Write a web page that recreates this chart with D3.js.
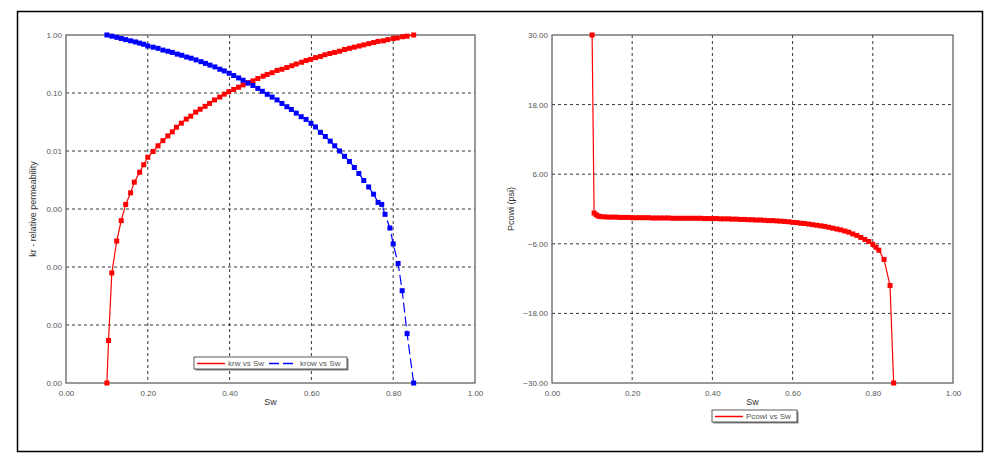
<!DOCTYPE html>
<html><head><meta charset="utf-8">
<script src="https://cdn.jsdelivr.net/npm/d3@7"></script>
<style>body{margin:0;background:#fff;font-family:"Liberation Sans",Arial,sans-serif}</style>
</head><body><svg id="c" width="1000" height="466"></svg>
<script>
// krw vs Sw
var swKrw = [0.100,0.104,0.112,0.124,0.135,0.146,0.158,0.167,0.180,0.190,0.200,0.213,0.225,0.237,0.249,0.260,0.270,0.282,0.294,0.305,0.317,0.328,0.340,0.351,0.363,0.376,0.387,0.398,0.410,0.422,0.433,0.445,0.457,0.469,0.482,0.492,0.504,0.516,0.528,0.540,0.552,0.563,0.576,0.587,0.598,0.610,0.622,0.633,0.645,0.657,0.669,0.681,0.693,0.705,0.717,0.728,0.740,0.752,0.763,0.776,0.787,0.800,0.810,0.823,0.834,0.850];
var krw = [1e-6,5.4e-6,7.9e-5,2.8e-4,6.3e-4,1.2e-3,1.9e-3,2.9e-3,4.3e-3,5.8e-3,7.8e-3,9.8e-3,0.0123,0.0151,0.0182,0.0214,0.0257,0.0302,0.0355,0.0398,0.0468,0.0525,0.0589,0.0661,0.0759,0.0851,0.0955,0.105,0.115,0.126,0.138,0.151,0.162,0.178,0.195,0.209,0.224,0.245,0.257,0.275,0.295,0.316,0.339,0.363,0.380,0.407,0.427,0.457,0.479,0.501,0.525,0.562,0.589,0.617,0.646,0.676,0.708,0.741,0.776,0.794,0.832,0.871,0.891,0.933,0.955,1.0];
// krow vs Sw
var swKrow = [0.100,0.112,0.124,0.135,0.146,0.158,0.170,0.180,0.190,0.200,0.213,0.225,0.237,0.249,0.260,0.272,0.283,0.295,0.306,0.318,0.330,0.341,0.352,0.364,0.376,0.387,0.399,0.410,0.422,0.433,0.445,0.457,0.469,0.480,0.492,0.504,0.516,0.528,0.540,0.551,0.563,0.575,0.587,0.599,0.610,0.622,0.634,0.646,0.657,0.669,0.681,0.693,0.705,0.716,0.728,0.740,0.752,0.763,0.772,0.780,0.792,0.800,0.812,0.822,0.834,0.850];
var krow = [1.0,0.955,0.912,0.871,0.832,0.794,0.759,0.724,0.692,0.646,0.617,0.589,0.550,0.525,0.501,0.468,0.447,0.417,0.398,0.372,0.347,0.324,0.302,0.282,0.257,0.240,0.219,0.200,0.182,0.166,0.148,0.135,0.120,0.107,0.095,0.085,0.076,0.066,0.058,0.052,0.045,0.039,0.035,0.030,0.026,0.021,0.0178,0.0148,0.0123,0.0100,0.0081,0.0066,0.0052,0.0041,0.0031,0.0024,0.0018,0.0013,0.0012,0.00081,0.00047,0.00025,0.000115,0.000039,7.1e-6,1e-6];
// Pcowi vs Sw
var swPc = [0.100,0.105,0.110,0.115,0.120,0.130,0.140,0.150,0.160,0.170,0.180,0.190,0.200,0.210,0.220,0.230,0.240,0.250,0.260,0.270,0.280,0.290,0.300,0.310,0.320,0.330,0.340,0.350,0.360,0.370,0.380,0.390,0.400,0.410,0.420,0.430,0.440,0.450,0.460,0.470,0.480,0.490,0.500,0.510,0.520,0.530,0.540,0.550,0.560,0.570,0.580,0.590,0.600,0.610,0.620,0.630,0.640,0.650,0.660,0.670,0.680,0.690,0.700,0.710,0.720,0.730,0.740,0.750,0.760,0.770,0.780,0.790,0.800,0.808,0.815,0.828,0.843,0.852];
var pc = [30,-0.7,-1.0,-1.2,-1.3,-1.35,-1.4,-1.4,-1.4,-1.45,-1.45,-1.45,-1.5,-1.5,-1.5,-1.5,-1.5,-1.55,-1.55,-1.55,-1.55,-1.55,-1.6,-1.6,-1.6,-1.6,-1.6,-1.6,-1.6,-1.6,-1.65,-1.65,-1.65,-1.65,-1.7,-1.7,-1.7,-1.75,-1.75,-1.8,-1.8,-1.85,-1.85,-1.9,-1.9,-1.95,-2.0,-2.0,-2.05,-2.1,-2.15,-2.2,-2.3,-2.35,-2.45,-2.5,-2.6,-2.7,-2.8,-2.9,-3.0,-3.15,-3.3,-3.45,-3.6,-3.8,-4.0,-4.3,-4.55,-4.9,-5.25,-5.6,-6.1,-6.6,-7.1,-8.7,-13.2,-30];
var xTicks = [0,0.2,0.4,0.6,0.8,1.0];
var krTicks = [1e-6,1e-5,1e-4,1e-3,0.01,0.1,1];
var pcTicks = [-30,-18,-6,6,18,30];

var svg = d3.select("#c");
svg.append("rect").attr("x",17.5).attr("y",11.5).attr("width",965).attr("height",440)
  .attr("fill","none").attr("stroke","#000").attr("stroke-width",1.5);

function panel(x0, x1, yScaleType, yDomain, yTicks, yFmt, ytitle, ytitleX) {
  var x = d3.scaleLinear().domain([0,1]).range([x0,x1]);
  var y = (yScaleType == "log" ? d3.scaleLog() : d3.scaleLinear()).domain(yDomain).range([383,35]);
  var g = svg.append("g");
  // grid
  g.selectAll("line.gx").data(xTicks.slice(1,-1)).enter().append("line")
    .attr("x1",x).attr("x2",x).attr("y1",35).attr("y2",383)
    .attr("stroke","#000").attr("stroke-dasharray","3,3").attr("stroke-width",0.8);
  g.selectAll("line.gy").data(yTicks.slice(1,-1)).enter().append("line")
    .attr("y1",y).attr("y2",y).attr("x1",x0).attr("x2",x1)
    .attr("stroke","#000").attr("stroke-dasharray","3,3").attr("stroke-width",0.8);
  g.append("rect").attr("x",x0).attr("y",35).attr("width",x1-x0).attr("height",348)
    .attr("fill","none").attr("stroke","#555").attr("stroke-width",1.2);
  var ax = g.append("g").attr("transform","translate(0,383)")
    .call(d3.axisBottom(x).tickValues(xTicks).tickFormat(d3.format(".2f")).tickSize(0).tickPadding(7));
  var ay = g.append("g").attr("transform","translate("+x0+",0)")
    .call(d3.axisLeft(y).tickValues(yTicks).tickFormat(yFmt).tickSize(0).tickPadding(4));
  [ax,ay].forEach(function(a){
    a.select(".domain").remove();
    a.selectAll("text").attr("fill","#555").style("font-size","8px").style("font-family","Liberation Sans, Arial");
  });
  g.append("text").attr("x",(x0+x1)/2).attr("y",405).attr("text-anchor","middle")
    .attr("fill","#333").style("font-size","9px").text("Sw");
  g.append("text").attr("transform","translate("+ytitleX+",209) rotate(-90)").attr("text-anchor","middle")
    .attr("fill","#333").style("font-size","9px").text(ytitle);
  return {x:x, y:y, g:g};
}

function series(p, xs, ys, color, dash) {
  var pts = xs.map(function(v,i){ return [v, ys[i]]; });
  var line = d3.line().x(function(d){ return p.x(d[0]); }).y(function(d){ return p.y(d[1]); });
  p.g.append("path").datum(pts).attr("d",line).attr("fill","none").attr("stroke",color)
    .attr("stroke-width",1.2).attr("stroke-dasharray",dash || null);
  p.g.selectAll(null).data(pts).enter().append("rect")
    .attr("x",function(d){ return p.x(d[0])-2.5; }).attr("y",function(d){ return p.y(d[1])-2.5; })
    .attr("width",5).attr("height",5).attr("fill",color);
}

var left = panel(66, 475, "log", [1e-6,1], krTicks, d3.format(".2f"), "kr - relative permeability", 36);
series(left, swKrw, krw, "#f00");
series(left, swKrow, krow, "#00f", "10,4");

var right = panel(552, 953, "lin", [-30,30], pcTicks, d3.format(".2f"), "Pcowi (psi)", 514);
series(right, swPc, pc, "#f00");

// legends
function legend(x, y, w, items) {
  var g = svg.append("g");
  g.append("rect").attr("x",x+1.5).attr("y",y+1.5).attr("width",w).attr("height",12).attr("fill","#888");
  g.append("rect").attr("x",x).attr("y",y).attr("width",w).attr("height",12).attr("fill","#fff")
    .attr("stroke","#333").attr("stroke-width",0.8);
  var cx = x + 3;
  items.forEach(function(it){
    g.append("line").attr("x1",cx).attr("x2",cx+28).attr("y1",y+6.5).attr("y2",y+6.5)
      .attr("stroke",it.color).attr("stroke-width",1.5).attr("stroke-dasharray",it.dash || null);
    g.append("text").attr("x",cx+31).attr("y",y+9).attr("fill","#555").style("font-size","8px").text(it.label);
    cx += 72;
  });
}
legend(194, 357, 153, [{label:"krw vs Sw", color:"#f00"}, {label:"krow vs Sw", color:"#00f", dash:"10,4"}]);
legend(712, 410, 85, [{label:"Pcowi vs Sw", color:"#f00"}]);
</script></body></html>
